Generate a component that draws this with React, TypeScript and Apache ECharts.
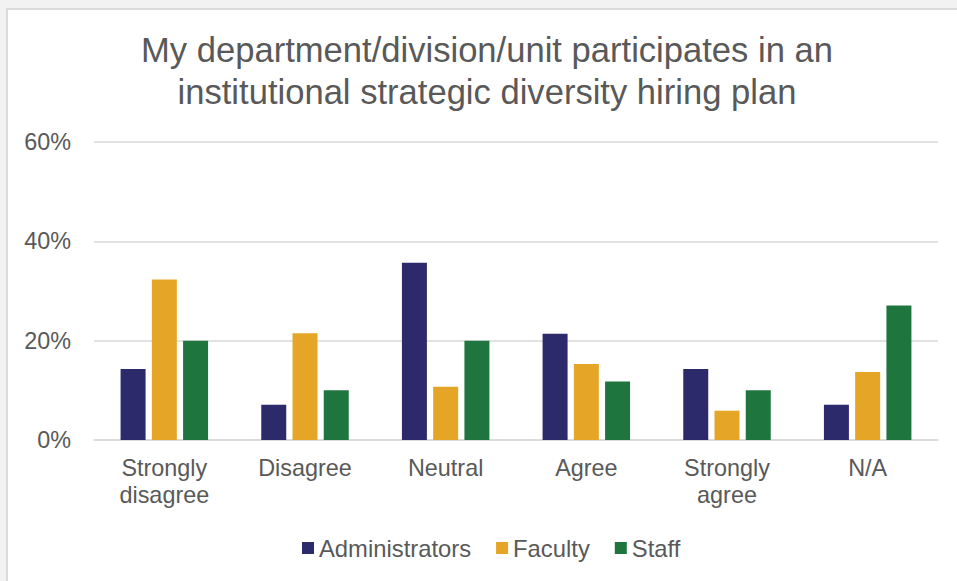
import React, { useEffect, useRef } from "react";
import * as echarts from "echarts";

const categories = ["Strongly\ndisagree", "Disagree", "Neutral", "Agree", "Strongly\nagree", "N/A"];
const seriesNames = ["Administrators", "Faculty", "Staff"];
const administrators = [14.3, 7.1, 35.7, 21.4, 14.3, 7.1];
const faculty = [32.3, 21.5, 10.7, 15.3, 5.9, 13.7];
const staff = [20.0, 10.0, 20.0, 11.8, 10.0, 27.1];
const yTicks = { min: 0, max: 60, interval: 20 };
const colors = ["#2d2a6b", "#e5a526", "#1e763e"];

const FONT = "'Liberation Sans', Arial, sans-serif";
const TEXT = "#595959";

export default function App() {
  const ref = useRef<HTMLDivElement>(null);
  useEffect(() => {
    if (!ref.current) return;
    const chart = echarts.init(ref.current, undefined, { renderer: "svg" });
    const data = [administrators, faculty, staff];
    chart.setOption({
      animation: false,
      backgroundColor: "transparent",
      textStyle: { fontFamily: FONT },
      title: {
        text: "My department/division/unit participates in an\ninstitutional strategic diversity hiring plan",
        left: 487,
        top: 29,
        padding: 0,
        textAlign: "center",
        textStyle: { fontFamily: FONT, fontSize: 34.6, fontWeight: "normal", color: TEXT, lineHeight: 42 },
      },
      legend: {
        left: 302,
        top: 536,
        padding: 0,
        itemWidth: 12,
        itemHeight: 12,
        itemGap: 25,
        icon: "rect",
        data: seriesNames,
        textStyle: { fontFamily: FONT, fontSize: 23.8, color: TEXT, padding: [0, 0, 0, 0] },
      },
      grid: { left: 94, right: 19, top: 142, bottom: 141, containLabel: false },
      xAxis: {
        type: "category",
        data: categories,
        axisTick: { show: false },
        axisLine: { lineStyle: { color: "#d9d9d9", width: 1.5 } },
        axisLabel: { fontFamily: FONT, fontSize: 23.4, color: TEXT, lineHeight: 27, margin: 14, interval: 0 },
      },
      yAxis: {
        type: "value",
        min: yTicks.min,
        max: yTicks.max,
        interval: yTicks.interval,
        axisLine: { show: false },
        axisTick: { show: false },
        splitLine: { lineStyle: { color: "#d9d9d9", width: 1.5 } },
        axisLabel: { fontFamily: FONT, fontSize: 23.4, color: TEXT, margin: 23, formatter: "{value}%" },
      },
      series: seriesNames.map((name, i) => ({
        name,
        type: "bar",
        data: data[i],
        barWidth: 25,
        barGap: "25%",
        itemStyle: { color: colors[i] },
      })),
    });
    return () => chart.dispose();
  }, []);

  return (
    <div style={{ position: "fixed", left: 0, top: 0, width: 957, height: 581, background: "#f2f2f2", overflow: "hidden" }}>
      <div
        style={{
          position: "absolute",
          left: 6,
          top: 8,
          width: 1000,
          height: 700,
          background: "#ffffff",
          border: "2px solid #dadada",
          boxSizing: "border-box",
        }}
      />
      <div ref={ref} style={{ position: "absolute", left: 0, top: 0, width: 957, height: 581 }} />
    </div>
  );
}
